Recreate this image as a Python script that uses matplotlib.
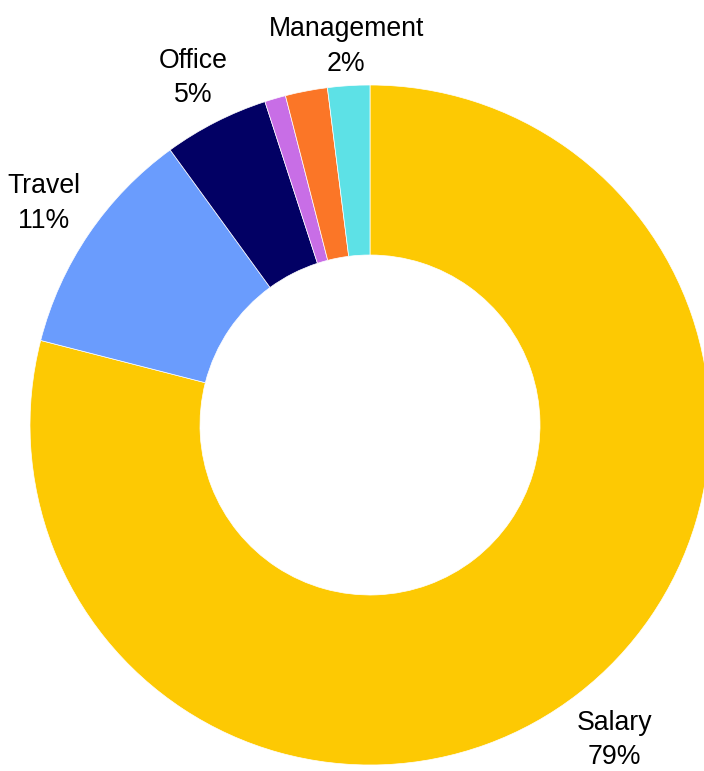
import matplotlib.pyplot as plt
import numpy as np

# slice data, clockwise from 12 o'clock
categories = ["Salary", "Travel", "Office", "Training", "Supplies", "Management"]
values = [79, 11, 5, 1, 2, 2]
show_label = [True, True, True, False, False, True]
colors = ["#FDC903", "#6A9CFD", "#020064", "#C86EE6", "#FB7627", "#5DE1E6"]

plt.rcParams['font.family'] = ['Liberation Sans', 'DejaVu Sans']

W, H = 704, 771
fig = plt.figure(figsize=(W / 100, H / 100), dpi=100)
ax = fig.add_axes([0, 0, 1, 1])

# pie centre at (370, 425) px from top-left, radius 340 px
R = 340.0
cx, cy = 370.0, 425.0
wedges, _ = ax.pie(values, colors=colors, startangle=90, counterclock=False,
                   radius=1.0, wedgeprops=dict(width=0.5, edgecolor="white", linewidth=0.5))

# label distance per slice (outside the ring)
label_dist = {"Salary": 1.172, "Travel": 1.16, "Office": 1.145, "Management": 1.115}

total = sum(values)
for w, name, v, show in zip(wedges, categories, values, show_label):
    if not show:
        continue
    mid = np.deg2rad((w.theta1 + w.theta2) / 2)
    d = label_dist[name]
    ax.text(d * np.cos(mid), d * np.sin(mid), f"{name}\n{round(v / total * 100)}%",
            ha="center", va="center", fontsize=19.2, linespacing=1.42, color="black")

ax.set_xlim(-cx / R, (W - cx) / R)
ax.set_ylim(-(H - cy) / R, cy / R)
ax.set_aspect("equal")
ax.axis("off")

fig.savefig("out.png", dpi=100)
